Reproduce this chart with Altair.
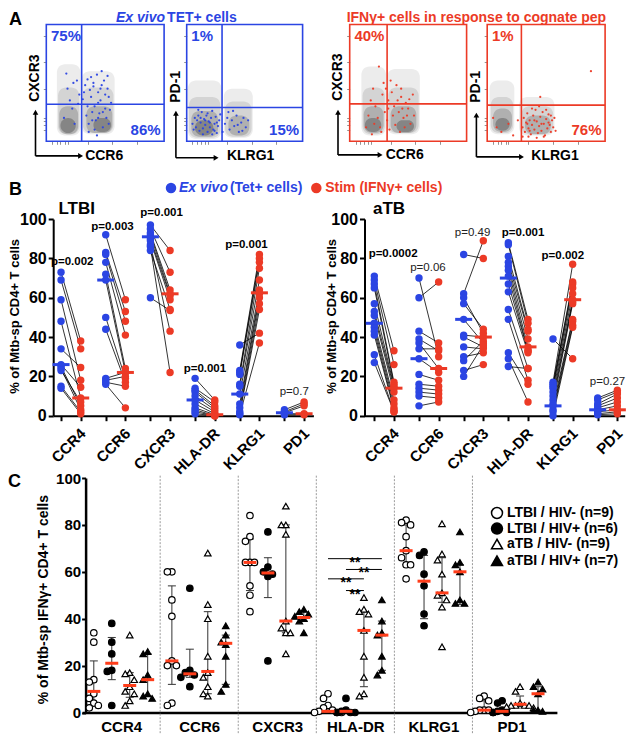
import altair as alt
import pandas as pd

# ======================= DATA =======================
markers = ["CCR4", "CCR6", "CXCR3", "HLA-DR", "KLRG1", "PD1"]

# ---- Panel A : flow plots (fluorescence axis units 0-100) ----
a1_gate = [30, 31.7]
a2_gate = [30.5, 29]
a3_gate = [32, 32]
a4_gate = [29, 31]
a1_pct = [("75%", "tl"), ("86%", "br")]
a2_pct = [("1%", "tl"), ("15%", "br")]
a3_pct = [("40%", "tl")]
a4_pct = [("1%", "tl"), ("76%", "br")]
# density contours: (x1, x2, y1, y2, level)
a1_blobs = [(9, 29, 5, 66, 0), (30, 58, 6, 60, 0), (10, 28, 6, 46, 1), (31, 57, 7, 46, 1),
            (11, 27, 6, 30, 2), (34, 56, 7, 30, 2), (12, 25, 7, 20, 3), (40, 55, 8, 20, 3)]
a2_blobs = [(1, 30, 2, 52, 0), (32, 57, 3, 45, 0), (2, 29, 3, 38, 1), (33, 56, 4, 34, 1),
            (4, 27, 4, 26, 2), (36, 54, 5, 22, 2), (7, 23, 5, 18, 3)]
a3_blobs = [(10, 31, 5, 64, 0), (32, 60, 6, 62, 0), (11, 30, 6, 46, 1), (33, 59, 7, 46, 1),
            (12, 29, 7, 30, 2), (35, 57, 7, 30, 2), (13, 27, 8, 20, 3), (40, 55, 8, 18, 3)]
a4_blobs = [(2, 23, 6, 52, 0), (27, 57, 5, 38, 0), (3, 22, 7, 38, 1), (29, 56, 6, 30, 1),
            (5, 21, 8, 28, 2), (32, 54, 6, 22, 2), (7, 19, 9, 20, 3)]
a1_dots = [(33, 48), (35, 53), (37, 44), (38, 38), (40, 50), (41, 30), (43, 57), (44, 42), (46, 35), (47, 48),
           (49, 52), (50, 28), (52, 45), (53, 38), (55, 33), (31, 36), (34, 22), (36, 15), (39, 25), (42, 18),
           (45, 24), (48, 12), (51, 20), (54, 27), (32, 42), (35, 30), (38, 55), (41, 10), (44, 20), (47, 60),
           (50, 40), (53, 15), (36, 8), (40, 47), (44, 33), (48, 25), (52, 56), (15, 20), (18, 45), (20, 35),
           (22, 28), (24, 15), (26, 52), (28, 40), (17, 58), (23, 50), (27, 32), (43, 5), (39, 18), (46, 45)]
a2_dots = [(5, 15), (7, 20), (8, 12), (9, 18), (10, 22), (11, 9), (12, 16), (13, 25), (14, 11), (15, 19),
           (16, 14), (17, 22), (18, 8), (19, 17), (20, 12), (21, 20), (22, 26), (23, 10), (24, 15), (25, 21),
           (26, 7), (27, 13), (28, 18), (29, 23), (6, 10), (10, 27), (14, 6), (18, 24), (22, 6), (26, 16),
           (33, 15), (35, 20), (37, 10), (39, 18), (41, 13), (43, 22), (45, 8), (47, 16), (49, 20), (51, 12),
           (53, 18), (36, 25), (44, 14), (31, 8), (40, 26), (48, 9), (12, 20), (16, 18), (20, 16), (24, 9)]
a3_dots = [(25, 64), (20, 45), (28, 40), (33, 35), (36, 42), (38, 30), (40, 48), (42, 25), (44, 38), (46, 20),
           (48, 33), (50, 28), (52, 15), (54, 40), (22, 30), (24, 20), (26, 12), (30, 25), (32, 18), (34, 10),
           (18, 35), (16, 22), (14, 12), (37, 22), (39, 14), (41, 35), (43, 8), (45, 28), (47, 12), (49, 22),
           (51, 36), (29, 50), (31, 45), (35, 52), (27, 8), (21, 15), (19, 6), (33, 28), (44, 45), (55, 22)]
a4_dots = [(30, 12), (31, 20), (32, 8), (33, 16), (34, 24), (35, 11), (36, 18), (37, 6), (38, 14), (39, 22),
           (40, 10), (41, 27), (42, 17), (43, 7), (44, 13), (45, 21), (46, 9), (47, 25), (48, 15), (49, 5),
           (50, 19), (51, 11), (52, 23), (53, 14), (54, 8), (55, 18), (56, 12), (57, 20), (38, 28), (44, 30),
           (50, 27), (35, 4), (42, 3), (48, 4), (40, 18), (46, 15), (52, 16), (34, 15), (36, 9), (54, 22),
           (5, 20), (8, 12), (12, 8), (18, 15), (22, 5), (26, 18), (88, 60), (45, 38), (30, 4), (58, 9)]

# ---- Panel B : paired ex vivo / stim (% of Mtb-sp CD4+ T cells) ----
ltbi_ccr4_exvivo = [73, 69, 59, 48, 34, 26, 25, 24, 23, 15, 14]
ltbi_ccr4_stim = [38, 34, 18, 9, 24.5, 14.5, 5, 3, 7, 2, 1]
ltbi_ccr6_exvivo = [92, 83, 82, 78, 72, 69, 50, 44, 19, 18, 17, 16]
ltbi_ccr6_stim = [59, 53, 48, 41, 24, 22, 19, 17, 22, 20, 15, 4]
ltbi_cxcr3_exvivo = [97, 95, 93, 92, 90, 89, 87, 86, 84, 60]
ltbi_cxcr3_stim = [84, 73, 64, 62, 61, 59, 43, 22, 54, 53.5]
ltbi_hladr_exvivo = [19, 14, 13, 12, 10, 8, 6, 4, 3, 2, 1]
ltbi_hladr_stim = [8, 7, 5, 4, 3, 2, 1, 0.5, 0, 0, 0]
ltbi_klrg1_exvivo = [36, 23, 22, 21, 16, 15, 11, 6, 4, 2, 1, 0.5]
ltbi_klrg1_stim = [42, 82, 80, 78, 75, 69, 64, 62, 60, 57, 54, 37]
ltbi_pd1_exvivo = [3, 2, 1.5, 1, 0.5]
ltbi_pd1_stim = [7, 6, 5, 1, 0.5]
ltbi_median_exvivo = [26, 69, 91, 8, 11, 1.5]
ltbi_median_stim = [9, 22, 62, 0.5, 62.5, 1]
ltbi_p_text = ["p=0.002", "p=0.003", "p=0.001", "p=0.001", "p=0.001", "p=0.7"]
ltbi_p_bold = [True, True, True, True, True, False]
ltbi_p_y = [78, 96, 103, 24, 87, 12]
ltbi_p_shift = [0.25, 0.15, 0.25, 0.22, 0.15, 0.22]

atb_ccr4_exvivo = [71, 69, 67, 65, 57, 53, 51, 47, 45, 43, 41, 31, 27]
atb_ccr4_stim = [33, 26, 17, 16, 15, 14, 12, 8, 6, 4, 3, 2, 2]
atb_ccr6_exvivo = [70, 60, 43, 39, 37, 34, 29, 21, 16, 14, 12, 10, 5]
atb_ccr6_stim = [30, 68, 37, 33, 24, 34, 22, 18, 15, 13, 11, 9, 7]
atb_cxcr3_exvivo = [82, 62, 60, 57, 49, 41, 40, 35, 30, 28, 23, 20]
atb_cxcr3_stim = [80, 89, 42, 44, 37, 40, 35, 34, 32, 38, 26, 36]
atb_hladr_exvivo = [88, 87, 81, 78, 76, 74, 71, 67, 63, 54, 49, 32, 29, 25]
atb_hladr_stim = [49, 47, 44, 43, 39, 35, 33, 33, 32, 24, 18, 16, 7, 24]
atb_klrg1_exvivo = [39, 17, 16, 15, 14, 12, 10, 8, 6, 5, 3, 2, 0]
atb_klrg1_stim = [29, 77, 68, 67, 65, 62, 59, 58, 57, 49, 48, 46, 45]
atb_pd1_exvivo = [9, 8, 6, 5, 4, 3, 2, 1, 0.5]
atb_pd1_stim = [13, 12, 11, 9, 7, 5, 3, 2, 1]
atb_median_exvivo = [47, 29, 49, 70, 5, 3]
atb_median_stim = [14, 24, 40, 35, 59, 3]
atb_p_text = ["p=0.0002", "p=0.06", "p=0.49", "p=0.001", "p=0.002", "p=0.27"]
atb_p_bold = [True, False, False, True, True, False]
atb_p_y = [82, 75, 93, 93, 81, 17]
atb_p_shift = [0.42, 0.2, 0.2, 0.33, 0.22, 0.22]

# ---- Panel C : % of Mtb-sp IFNγ+ CD4+ T cells, 4 groups per marker ----
c_groups = ["LTBI / HIV- (n=9)", "LTBI / HIV+ (n=6)", "aTB / HIV- (n=9)", "aTBI / HIV+ (n=7)"]
c_ccr4 = [[34, 30, 14, 13, 8, 6, 4, 3, 2], [38, 30, 25, 18, 17.5, 3], [33, 17, 16.5, 14, 11, 9, 8, 5, 3], [26, 25, 16, 14, 8, 7, 6]]
c_ccr6 = [[60, 60, 48, 41, 22, 20, 20, 4, 3], [53, 18, 17, 16, 15, 11], [68, 46, 40, 24, 17, 15, 11, 8, 7], [37, 33, 30, 29, 24, 12, 9]]
c_cxcr3 = [[84, 75, 73, 64, 64, 64, 54, 50, 43], [77, 62, 60, 59, 58, 22], [88, 80, 80, 76, 39, 36, 34, 34, 25], [44, 43, 42, 41, 40, 39, 34]]
c_hladr = [[8, 6, 3, 2, 1, 0.5, 0, 0, 0], [6, 1, 0.5, 0, 0, 0], [49, 44, 43, 42, 35, 24, 15, 8, 7], [48, 39, 34, 33, 24, 18, 16]]
c_klrg1 = [[82, 81, 80, 75, 69, 66, 63, 63, 57], [68.5, 67, 59, 54, 42, 37], [80.5, 67.6, 65, 59, 51, 50, 48, 45, 28], [77, 64, 63, 60, 48, 46.5, 46.5]]
c_pd1 = [[7, 6, 5, 1, 1, 1, 0.5, 0, 0], [5, 4, 1, 0.5, 0, 0], [11, 9, 4, 3, 3, 3, 2.5, 2, 3], [13, 11, 10, 8, 1, 0.5, 1]]
c_medians = [[9, 21, 11.5, 14], [22, 16.5, 17.5, 29.5], [64, 59.5, 39, 40.5], [0.5, 0.5, 35, 33], [69, 56, 51, 60], [1, 0.5, 3.5, 8]]
c_iqr = [[(3.5, 22), (14, 32), (6.5, 17), (7, 25)],
         [(12, 54), (15, 27), (8, 43), (12, 33)],
         [(52, 74), (49, 66), (34, 80), (39, 43)],
         [(0, 3), (0, 1), (11, 43), (18, 39)],
         [(63, 80), (40, 67), (47, 66), (46, 63)],
         [(0.5, 5), (0, 1), (2.5, 7), (1, 11)]]
sig_from = [0, 1, 0, 1]
sig_to = [3, 3, 2, 2]
sig_y = [65.6, 61, 57, 52]
sig_text = ["**", "**", "**", "**"]

# ======================= LAYOUT / STYLE =======================
W, H = 619, 726
SX, SY = 0.982, 0.973


def X(v):
    return round((v - 2) * SX, 1)


def Y(v):
    return round((v - 2) * SY, 1)


FONT = "Liberation Sans"
BLUE = "#2b45e3"
RED = "#ec3a26"
ORANGE = "#ff3d1a"
layers = []


def one():
    return pd.DataFrame({"a": [0]})


def label(text, x, y, size=14, weight="bold", color="black", align="center",
          baseline="middle", angle=0, style="normal"):
    return alt.Chart(pd.DataFrame({"t": [text]})).mark_text(
        font=FONT, fontSize=size, fontWeight=weight, color=color, align=align,
        baseline=baseline, angle=angle, fontStyle=style
    ).encode(x=alt.value(x), y=alt.value(y), text="t:N")


def sc(dom, rng):
    return alt.Scale(domain=dom, range=rng, nice=False, zero=False)


# ---------------- Panel A ----------------
def flow_panel(box, gate, blobs, dots, pct, color):
    l, r, t, b = box
    xs = sc([0, 100], [X(l), X(r)])
    ys = sc([0, 100], [Y(b), Y(t)])
    xaxis = alt.Axis(orient="bottom", offset=Y(b) - H, values=[5, 9, 12, 16, 18, 35, 56, 77],
                     labels=False, domain=False, ticks=True, tickSize=3, tickColor="#777",
                     tickWidth=0.8, grid=False, title=None)
    yaxis = alt.Axis(orient="left", offset=-X(l), values=[10, 14, 17.5, 20, 45, 68, 90],
                     labels=False, domain=False, ticks=True, tickSize=3, tickColor="#777",
                     tickWidth=0.8, grid=False, title=None)
    bdf = pd.DataFrame(blobs, columns=["x1", "x2", "y1", "y2", "lvl"]).sort_values("lvl", kind="stable")
    blob = alt.Chart(bdf).mark_rect(cornerRadius=8).encode(
        x=alt.X("x1:Q", scale=xs, axis=xaxis), x2="x2:Q",
        y=alt.Y("y1:Q", scale=ys, axis=yaxis), y2="y2:Q",
        color=alt.Color("lvl:O", scale=alt.Scale(domain=[0, 1, 2, 3],
                                                 range=["#ececec", "#d4d4d4", "#b0b0b0", "#858585"]), legend=None),
    )
    frame = alt.Chart(pd.DataFrame({"x1": [0], "x2": [100], "y1": [0], "y2": [100]})).mark_rect(
        fillOpacity=0, stroke=color, strokeWidth=1.6).encode(
        x=alt.X("x1:Q", scale=xs, axis=None), x2="x2:Q",
        y=alt.Y("y1:Q", scale=ys, axis=None), y2="y2:Q")
    vg = alt.Chart(pd.DataFrame({"g": [gate[0]], "y1": [0], "y2": [100]})).mark_rule(
        color=color, strokeWidth=1.6).encode(
        x=alt.X("g:Q", scale=xs, axis=None), y=alt.Y("y1:Q", scale=ys, axis=None), y2="y2:Q")
    hg = alt.Chart(pd.DataFrame({"g": [gate[1]], "x1": [0], "x2": [100]})).mark_rule(
        color=color, strokeWidth=1.6).encode(
        y=alt.Y("g:Q", scale=ys, axis=None), x=alt.X("x1:Q", scale=xs, axis=None), x2="x2:Q")
    ddf = pd.DataFrame(dots, columns=["x", "y"])
    pts = alt.Chart(ddf).mark_circle(size=5, color=color, opacity=0.95).encode(
        x=alt.X("x:Q", scale=xs, axis=None), y=alt.Y("y:Q", scale=ys, axis=None))
    parts = [blob, pts, frame, vg, hg]
    for txt, corner in pct:
        if corner == "tl":
            df = pd.DataFrame({"t": [txt], "x": [4], "y": [96]})
            m = alt.Chart(df).mark_text(font=FONT, fontSize=15, fontWeight="bold", color=color,
                                        align="left", baseline="top")
        else:
            df = pd.DataFrame({"t": [txt], "x": [97], "y": [3]})
            m = alt.Chart(df).mark_text(font=FONT, fontSize=15, fontWeight="bold", color=color,
                                        align="right", baseline="bottom")
        parts.append(m.encode(x=alt.X("x:Q", scale=xs, axis=None), y=alt.Y("y:Q", scale=ys, axis=None), text="t:N"))
    return parts


def arrows(xv, ybot, ytop, xend):
    v = alt.Chart(one()).mark_rule(color="black", strokeWidth=1.6).encode(
        x=alt.value(X(xv)), y=alt.value(Y(ybot)), y2=alt.value(Y(ytop) + 3))
    vh = alt.Chart(one()).mark_point(shape="triangle-up", filled=True, color="black", size=32, opacity=1).encode(
        x=alt.value(X(xv)), y=alt.value(Y(ytop) + 3))
    h = alt.Chart(one()).mark_rule(color="black", strokeWidth=1.6).encode(
        y=alt.value(Y(ybot)), x=alt.value(X(xv)), x2=alt.value(X(xend) - 3))
    hh = alt.Chart(one()).mark_point(shape="triangle-right", filled=True, color="black", size=32, opacity=1).encode(
        y=alt.value(Y(ybot)), x=alt.value(X(xend) - 3))
    return [v, vh, h, hh]


layers += flow_panel((41, 161, 19, 139), a1_gate, a1_blobs, a1_dots, a1_pct, BLUE)
layers += flow_panel((184, 302, 19, 139), a2_gate, a2_blobs, a2_dots, a2_pct, BLUE)
layers += flow_panel((350, 469, 19, 139), a3_gate, a3_blobs, a3_dots, a3_pct, RED)
layers += flow_panel((490, 610, 19, 139), a4_gate, a4_blobs, a4_dots, a4_pct, RED)
layers += arrows(30, 154, 106, 79)
layers += arrows(173, 156, 107, 217)
layers += arrows(338, 153, 106, 384)
layers += arrows(479, 155, 109, 528)
layers += [
    label("CXCR3", X(29), Y(74), angle=270),
    label("CCR6", X(100), Y(154)),
    label("PD-1", X(173), Y(83), angle=270),
    label("KLRG1", X(249), Y(154)),
    label("CXCR3", X(338), Y(73), angle=270),
    label("CCR6", X(406), Y(153)),
    label("PD-1", X(479), Y(83), angle=270),
    label("KLRG1", X(559), Y(154)),
    label("A", X(3), 16.5, size=18, align="left", baseline="alphabetic"),
    label("Ex vivo", X(112), 13.5, color=BLUE, align="left", baseline="alphabetic", style="italic"),
    label("TET+ cells", X(164), 13.5, color=BLUE, align="left", baseline="alphabetic"),
    label("IFNγ+ cells in response to cognate pep", X(479), 13.5, color=RED, baseline="alphabetic"),
]

# ---------------- Panel B ----------------
ltbi_exvivo = [ltbi_ccr4_exvivo, ltbi_ccr6_exvivo, ltbi_cxcr3_exvivo, ltbi_hladr_exvivo, ltbi_klrg1_exvivo, ltbi_pd1_exvivo]
ltbi_stim = [ltbi_ccr4_stim, ltbi_ccr6_stim, ltbi_cxcr3_stim, ltbi_hladr_stim, ltbi_klrg1_stim, ltbi_pd1_stim]
atb_exvivo = [atb_ccr4_exvivo, atb_ccr6_exvivo, atb_cxcr3_exvivo, atb_hladr_exvivo, atb_klrg1_exvivo, atb_pd1_exvivo]
atb_stim = [atb_ccr4_stim, atb_ccr6_stim, atb_cxcr3_stim, atb_hladr_stim, atb_klrg1_stim, atb_pd1_stim]
RED_OFF = 0.44
label_expr = "datum.value % 1 > 0.2 ? ['CCR4','CCR6','CXCR3','HLA-DR','KLRG1','PD1'][floor(datum.value)] : ''"


def b_panel(x_left, x_right, blue_off, exv, stim, med_e, med_s, p_txt, p_bold, p_y, p_shift):
    step = 45.5
    d0 = -blue_off / step
    d1 = (x_right - x_left) / step + d0
    xs = sc([d0, d1], [X(x_left), X(x_right)])
    ys = sc([0, 100], [Y(421), Y(219)])
    xaxis = alt.Axis(orient="bottom", offset=Y(421) - H,
                     values=[k + d for k in range(6) for d in (0, RED_OFF)],
                     labelExpr=label_expr, labelAngle=-45, labelAlign="right", labelBaseline="top",
                     labelFont=FONT, labelFontSize=15, labelFontWeight="bold", labelColor="black",
                     labelPadding=5, labelOffset=-3, labelFlush=False, labelOverlap=False, labelBound=False,
                     tickSize=5, tickWidth=2, tickColor="black", domainWidth=2, domainColor="black",
                     grid=False, title=None)
    yaxis = alt.Axis(orient="left", offset=-X(x_left), values=[0, 20, 40, 60, 80, 100],
                     labelFont=FONT, labelFontSize=16, labelFontWeight="bold", labelColor="black",
                     labelPadding=2, tickSize=5, tickWidth=2, tickColor="black",
                     domainWidth=2, domainColor="black", grid=False, title=None)
    pts_e, pts_s, lines = [], [], []
    for k in range(6):
        for v in exv[k]:
            pts_e.append({"x": k, "y": v})
        for v in stim[k]:
            pts_s.append({"x": k + RED_OFF, "y": v})
        for a, b in zip(exv[k], stim[k]):
            lines.append({"xb": k, "yb": a, "xr": k + RED_OFF, "yr": b})
    ln = alt.Chart(pd.DataFrame(lines)).mark_rule(color="black", strokeWidth=0.8).encode(
        x=alt.X("xb:Q", scale=xs, axis=xaxis), x2="xr:Q",
        y=alt.Y("yb:Q", scale=ys, axis=yaxis), y2="yr:Q")
    pe = alt.Chart(pd.DataFrame(pts_e)).mark_circle(size=55, color=BLUE, opacity=1).encode(
        x=alt.X("x:Q", scale=xs, axis=None), y=alt.Y("y:Q", scale=ys, axis=None))
    ps = alt.Chart(pd.DataFrame(pts_s)).mark_circle(size=55, color=RED, opacity=1).encode(
        x=alt.X("x:Q", scale=xs, axis=None), y=alt.Y("y:Q", scale=ys, axis=None))
    me = alt.Chart(pd.DataFrame({"x": list(range(6)), "y": med_e})).mark_tick(
        orient="horizontal", size=17, thickness=3, color=BLUE, opacity=1).encode(
        x=alt.X("x:Q", scale=xs, axis=None), y=alt.Y("y:Q", scale=ys, axis=None))
    ms = alt.Chart(pd.DataFrame({"x": [k + RED_OFF for k in range(6)], "y": med_s})).mark_tick(
        orient="horizontal", size=17, thickness=3, color=RED, opacity=1).encode(
        x=alt.X("x:Q", scale=xs, axis=None), y=alt.Y("y:Q", scale=ys, axis=None))
    pdf = pd.DataFrame({"x": [k + p_shift[k] for k in range(6)], "y": p_y, "t": p_txt, "b": p_bold})
    pb = alt.Chart(pdf[pdf.b]).mark_text(font=FONT, fontSize=11.5, fontWeight="bold", color="black").encode(
        x=alt.X("x:Q", scale=xs, axis=None), y=alt.Y("y:Q", scale=ys, axis=None), text="t:N")
    pn = alt.Chart(pdf[~pdf.b]).mark_text(font=FONT, fontSize=11.5, fontWeight="normal", color="#222").encode(
        x=alt.X("x:Q", scale=xs, axis=None), y=alt.Y("y:Q", scale=ys, axis=None), text="t:N")
    return [ln, pe, ps, me, ms, pb, pn]


layers += b_panel(48, 313, 8, ltbi_exvivo, ltbi_stim, ltbi_median_exvivo, ltbi_median_stim,
                  ltbi_p_text, ltbi_p_bold, ltbi_p_y, ltbi_p_shift)
layers += b_panel(365, 630, 10, atb_exvivo, atb_stim, atb_median_exvivo, atb_median_stim,
                  atb_p_text, atb_p_bold, atb_p_y, atb_p_shift)
layers += [
    label("B", X(3), Y(194), size=18, align="left", baseline="alphabetic"),
    alt.Chart(one()).mark_circle(size=110, color=BLUE, opacity=1).encode(x=alt.value(X(168)), y=alt.value(Y(187))),
    label("Ex vivo", X(176), Y(187), color=BLUE, align="left", style="italic"),
    label("(Tet+ cells)", X(228), Y(187), color=BLUE, align="left"),
    alt.Chart(one()).mark_circle(size=110, color=RED, opacity=1).encode(x=alt.value(X(316)), y=alt.value(Y(187))),
    label("Stim (IFNγ+ cells)", X(325), Y(187), color=RED, align="left"),
    label("LTBI", X(72), Y(209), size=17),
    label("aTB", X(390), Y(209), size=17),
    label("% of Mtb-sp CD4+ T cells", X(9), Y(319), size=13, angle=270),
    label("% of Mtb-sp CD4+ T cells", X(332), Y(319), size=13, angle=270),
]

# ---------------- Panel C ----------------
c_values = [c_ccr4, c_ccr6, c_cxcr3, c_hladr, c_klrg1, c_pd1]
goff = [-0.35, -0.12, 0.11, 0.34]
slot_seq = [0, -1, 1, -2, 2, -3, 3]


def c_panel():
    cat_w = 79.5
    xs = sc([0, 6 + (561 - 554.5) / cat_w], [X(77.5), X(561)])
    ys = sc([0, 100], [Y(726), Y(485)])
    ppu = (X(554.5) - X(77.5)) / 6
    yaxis = alt.Axis(orient="left", offset=-X(81), values=[0, 20, 40, 60, 80, 100],
                     labelFont=FONT, labelFontSize=15, labelFontWeight="bold", labelColor="black",
                     labelPadding=1, tickSize=4, tickWidth=2, tickColor="black",
                     domainWidth=2.5, domainColor="black", grid=False, title=None)
    xaxis = alt.Axis(orient="bottom", offset=Y(726) - H, values=[k + 0.5 for k in range(6)],
                     labelExpr="['CCR4','CCR6','CXCR3','HLA-DR','KLRG1','PD1'][floor(datum.value)]",
                     labelFont=FONT, labelFontSize=15, labelFontWeight="bold", labelColor="black",
                     labelPadding=7, labelFlush=False, labelOverlap=False, ticks=False,
                     domainWidth=2.5, domainColor="black", grid=False, title=None)
    rows, bars, caps = [], [], []
    for k in range(6):
        for g in range(4):
            base = k + 0.5 + goff[g]
            placed = []
            for v in sorted(c_values[k][g], reverse=True):
                slot = 0
                for s in slot_seq:
                    if all(not (abs(v - pv) < 3.3 and ps == s) for pv, ps in placed):
                        slot = s
                        break
                placed.append((v, slot))
                rows.append({"x": base + slot * 4.5 / ppu, "y": v, "g": g})
            lo, hi = c_iqr[k][g]
            bars.append({"x": base, "lo": lo, "hi": hi, "med": c_medians[k][g]})
            caps.append({"x": base, "y": lo})
            caps.append({"x": base, "y": hi})
    pts = pd.DataFrame(rows)
    sep = alt.Chart(pd.DataFrame({"x": [1, 2, 3, 4, 5], "y1": [101] * 5, "y2": [-10] * 5})).mark_rule(
        color="#9a9a9a", strokeWidth=1, strokeDash=[2, 1.5]).encode(
        x=alt.X("x:Q", scale=xs, axis=xaxis), y=alt.Y("y1:Q", scale=ys, axis=yaxis), y2="y2:Q")
    bdf = pd.DataFrame(bars)
    eb = alt.Chart(bdf).mark_rule(color="#333", strokeWidth=1).encode(
        x=alt.X("x:Q", scale=xs, axis=None), y=alt.Y("lo:Q", scale=ys, axis=None), y2="hi:Q")
    cp = alt.Chart(pd.DataFrame(caps)).mark_tick(orient="horizontal", size=8, thickness=1, color="#333", opacity=1).encode(
        x=alt.X("x:Q", scale=xs, axis=None), y=alt.Y("y:Q", scale=ys, axis=None))
    styles = [("circle", "white"), ("circle", "black"), ("triangle-up", "white"), ("triangle-up", "black")]
    parts = [sep, eb, cp]
    for g, (shape, fill) in enumerate(styles):
        parts.append(alt.Chart(pts[pts.g == g]).mark_point(
            shape=shape, filled=True, fill=fill, stroke="black", strokeWidth=1.2, size=42, opacity=1).encode(
            x=alt.X("x:Q", scale=xs, axis=None), y=alt.Y("y:Q", scale=ys, axis=None)))
    parts.append(alt.Chart(bdf).mark_tick(orient="horizontal", size=13, thickness=3, color=ORANGE, opacity=1).encode(
        x=alt.X("x:Q", scale=xs, axis=None), y=alt.Y("med:Q", scale=ys, axis=None)))
    sdf = pd.DataFrame({"x1": [3.5 + goff[a] for a in sig_from], "x2": [3.5 + goff[b] for b in sig_to],
                        "y": sig_y, "t": sig_text})
    sdf["xm"] = (sdf.x1 + sdf.x2) / 2
    parts.append(alt.Chart(sdf).mark_rule(color="black", strokeWidth=1).encode(
        x=alt.X("x1:Q", scale=xs, axis=None), x2="x2:Q", y=alt.Y("y:Q", scale=ys, axis=None)))
    parts.append(alt.Chart(sdf).mark_text(font=FONT, fontSize=14, fontWeight="bold", color="black",
                                          baseline="alphabetic", dy=8).encode(
        x=alt.X("xm:Q", scale=xs, axis=None), y=alt.Y("y:Q", scale=ys, axis=None), text="t:N"))
    return parts


layers += c_panel()
legend_rows = [Y(521), Y(537), Y(553), Y(570)]
leg_styles = [("circle", "white"), ("circle", "black"), ("triangle-up", "white"), ("triangle-up", "black")]
for name, yy, (shape, fill) in zip(c_groups, legend_rows, leg_styles):
    layers.append(alt.Chart(one()).mark_point(shape=shape, filled=True, fill=fill, stroke="black",
                                              strokeWidth=1.5, size=120, opacity=1).encode(
        x=alt.value(X(500)), y=alt.value(yy)))
    layers.append(label(name, X(510), yy, align="left"))
layers += [
    label("C", X(2), Y(494), size=18, align="left", baseline="alphabetic"),
    label("% of Mtb-sp IFNγ+ CD4+ T cells", X(39), Y(610), size=14, angle=270),
]

chart = alt.layer(*layers).resolve_scale(x="independent", y="independent").properties(
    width=W, height=H, padding=0, autosize=alt.AutoSizeParams(type="none"),
).configure_view(strokeWidth=0)

chart.save("out.html", embed_options={"renderer": "svg", "actions": False})
